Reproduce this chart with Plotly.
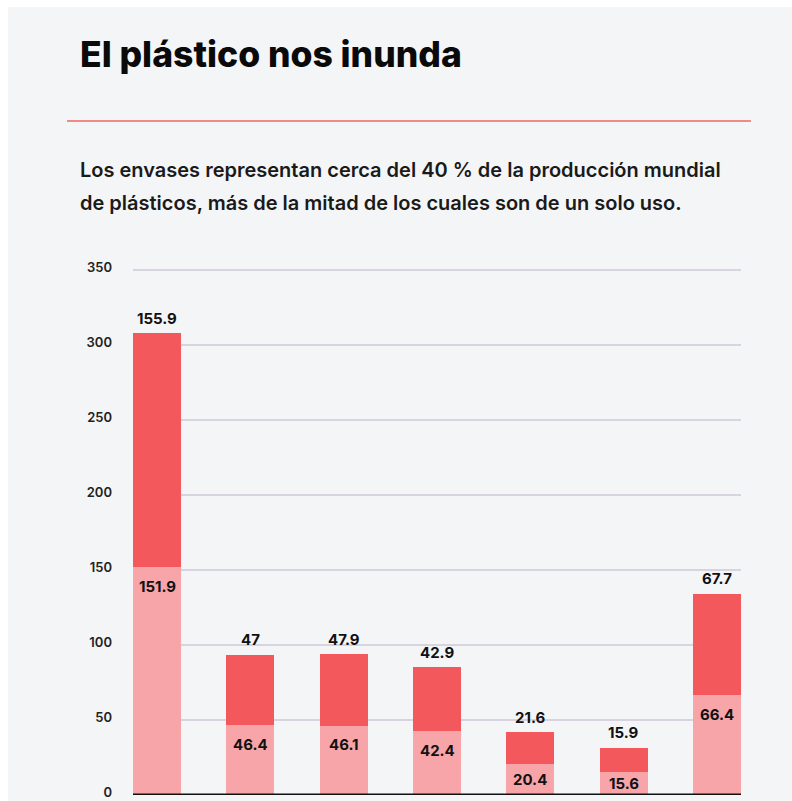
import plotly.graph_objects as go

# ---- data ----
categories = ["A", "B", "C", "D", "E", "F", "G"]
bottom_values = [151.9, 46.4, 46.1, 42.4, 20.4, 15.6, 66.4]
top_values = [155.9, 47, 47.9, 42.9, 21.6, 15.9, 67.7]
y_ticks = [0, 50, 100, 150, 200, 250, 300, 350]

title_text = "El plástico nos inunda"
subtitle_lines = [
    "Los envases representan cerca del 40 % de la producción mundial",
    "de plásticos, más de la mitad de los cuales son de un solo uso.",
]

# ---- layout helpers ----
W, H = 792, 801
def px_x(p):
    return p / W
def px_y(p):
    return 1 - p / H

PINK = "#f7a5a8"
RED = "#f2585c"
FONT = "Inter"

x_idx = list(range(len(categories)))
bar_w = 48 / 93

fig = go.Figure()
fig.add_trace(go.Bar(x=x_idx, y=bottom_values, width=bar_w, marker=dict(color=PINK, line=dict(width=0)),
                     hoverinfo="skip"))
fig.add_trace(go.Bar(x=x_idx, y=top_values, width=bar_w, marker=dict(color=RED, line=dict(width=0)),
                     hoverinfo="skip"))

ymax = 352
plot_top_px = 795 - ymax * 1.5
units_px = 1.5

annotations = []
for i, (b, t) in enumerate(zip(bottom_values, top_values)):
    seg_px = b * units_px
    shift = -min(19, seg_px / 2)
    annotations.append(dict(x=i, y=b, xref="x", yref="y", text=f"{b:g}", showarrow=False,
                            yanchor="middle", yshift=shift,
                            font=dict(family=FONT, size=15, color="#111111", weight=700)))
    annotations.append(dict(x=i, y=b + t, xref="x", yref="y", text=f"{t:g}", showarrow=False,
                            yanchor="middle", yshift=15,
                            font=dict(family=FONT, size=15, color="#111111", weight=700)))

annotations.append(dict(x=px_x(78), y=px_y(55), xref="paper", yref="paper", xanchor="left", yanchor="middle",
                        text=title_text, showarrow=False,
                        font=dict(family=FONT, size=35.5, color="#0a0a0a", weight=800)))
for k, line in enumerate(subtitle_lines):
    annotations.append(dict(x=px_x(78), y=px_y(170 + 33 * k), xref="paper", yref="paper", xanchor="left",
                            yanchor="middle", text=line, showarrow=False,
                            font=dict(family=FONT, size=20, color="#1a1a1a", weight=600)))

shapes = [
    dict(type="rect", xref="paper", yref="paper", x0=px_x(8), x1=1, y0=0, y1=px_y(7),
         fillcolor="#f4f5f7", line=dict(width=0), layer="below"),
    dict(type="line", xref="paper", yref="paper", x0=px_x(67), x1=px_x(751), y0=px_y(121), y1=px_y(121),
         line=dict(color="#f08a86", width=2)),
    dict(type="line", xref="x domain", yref="y", x0=0, x1=1, y0=0, y1=0,
         line=dict(color="#111111", width=3)),
]

fig.update_layout(
    width=W, height=H,
    margin=dict(l=0, r=0, t=0, b=0, autoexpand=False),
    paper_bgcolor="white",
    plot_bgcolor="rgba(0,0,0,0)",
    barmode="stack",
    bargap=0,
    showlegend=False,
    annotations=annotations,
    shapes=shapes,
    xaxis=dict(domain=[px_x(133), px_x(741)], range=[-bar_w / 2, 6 + bar_w / 2], automargin=False,
               showticklabels=False, showgrid=False, zeroline=False, fixedrange=True),
    yaxis=dict(domain=[px_y(795), px_y(plot_top_px)], range=[0, ymax], automargin=False,
               tickvals=y_ticks, ticktext=[str(v) for v in y_ticks],
               showgrid=True, gridcolor="#d8d3de", gridwidth=1.5, zeroline=False,
               ticks="", ticklabelstandoff=20, ticklabelshift=-3, ticklabeloverflow="allow",
               tickfont=dict(family=FONT, size=13, color="#222222", weight=600)),
)

fig.write_html("out.html")
